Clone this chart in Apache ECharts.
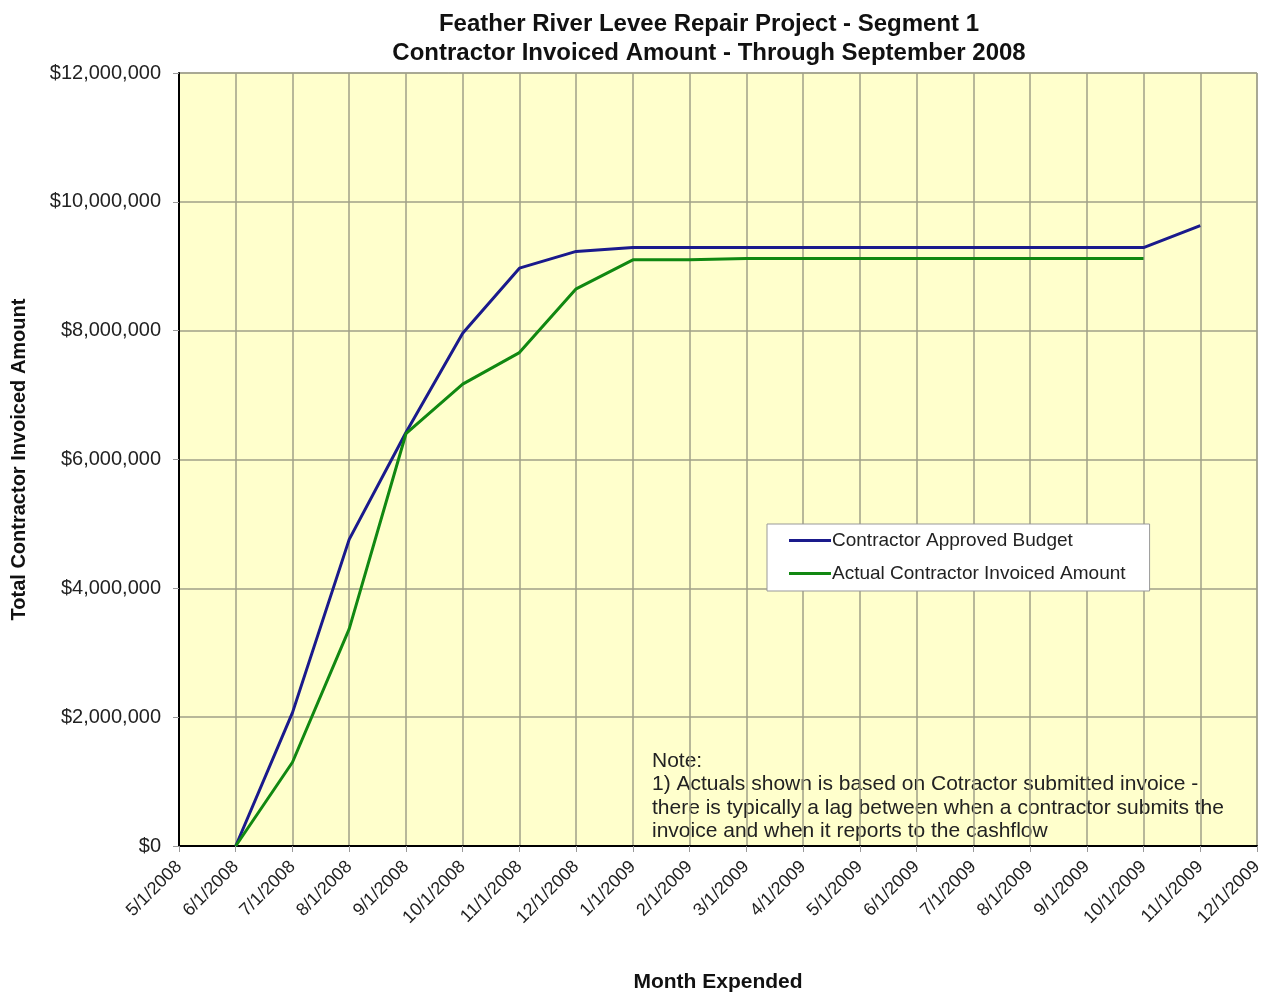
<!DOCTYPE html>
<html>
<head>
<meta charset="utf-8">
<script src="https://cdn.jsdelivr.net/npm/echarts@6/dist/echarts.min.js"></script>
<style>
  html, body { margin: 0; padding: 0; background: #fff; }
  #chart { width: 1270px; height: 998px; }
</style>
</head>
<body>
<div id="chart"></div>
<script>
// 月份
var months = ['5/1/2008', '6/1/2008', '7/1/2008', '8/1/2008', '9/1/2008', '10/1/2008',
  '11/1/2008', '12/1/2008', '1/1/2009', '2/1/2009', '3/1/2009', '4/1/2009', '5/1/2009',
  '6/1/2009', '7/1/2009', '8/1/2009', '9/1/2009', '10/1/2009', '11/1/2009', '12/1/2009']

// 预算
var approvedBudget = [null, 0, 2070000, 4760000, 6420000, 7960000, 8970000, 9230000, 9290000,
  9290000, 9290000, 9290000, 9290000, 9290000, 9290000, 9290000, 9290000, 9290000, 9630000, null]

// 实际开票
var actualInvoiced = [null, 0, 1300000, 3370000, 6400000, 7170000, 7660000, 8650000, 9100000,
  9100000, 9120000, 9120000, 9120000, 9120000, 9120000, 9120000, 9120000, 9120000, null, null]

var yTicks = [0, 2000000, 4000000, 6000000, 8000000, 10000000, 12000000]

var fontName = 'Liberation Sans, Arial, sans-serif'

var chart = echarts.init(document.getElementById('chart'))

var option = {
  backgroundColor: '#ffffff',
  animation: false,
  title: {
    text: 'Feather River Levee Repair Project - Segment 1\nContractor Invoiced Amount - Through September 2008',
    left: 704,
    top: 5,
    textAlign: 'center',
    textStyle: {
      fontFamily: fontName,
      fontSize: 24,
      fontWeight: 'bold',
      color: '#111',
      lineHeight: 29
    }
  },
  grid: {
    left: 179,
    right: 13,
    top: 73,
    bottom: 148,
    show: true,
    backgroundColor: '#ffffcc',
    borderColor: '#888',
    borderWidth: 1
  },
  legend: {
    orient: 'vertical',
    left: 767,
    top: 524,
    width: 389,
    backgroundColor: '#ffffff',
    borderColor: '#999',
    borderWidth: 1,
    padding: [7, 24, 8, 22],
    itemGap: 14,
    itemWidth: 42,
    itemHeight: 3,
    icon: 'rect',
    textStyle: {
      fontFamily: fontName,
      fontSize: 19,
      color: '#222',
      padding: [0, 0, 0, -4]
    },
    data: ['Contractor Approved Budget', 'Actual Contractor Invoiced Amount']
  },
  xAxis: {
    type: 'category',
    data: months,
    boundaryGap: false,
    name: 'Month Expended',
    nameLocation: 'middle',
    nameGap: 126,
    nameTextStyle: {
      fontFamily: fontName,
      fontSize: 21,
      fontWeight: 'bold',
      color: '#111'
    },
    axisLine: { show: true, lineStyle: { color: '#000', width: 2 } },
    axisTick: { show: true, alignWithLabel: true, length: 6, lineStyle: { color: '#999' } },
    axisLabel: {
      interval: 0,
      rotate: 45,
      margin: 18,
      fontFamily: fontName,
      fontSize: 18,
      color: '#222'
    },
    splitLine: { show: true, lineStyle: { color: '#a0a088', width: 1.5 } }
  },
  yAxis: {
    type: 'value',
    min: yTicks[0],
    max: yTicks[yTicks.length - 1],
    interval: 2000000,
    name: 'Total Contractor Invoiced Amount',
    nameLocation: 'middle',
    nameGap: 150,
    nameRotate: 90,
    nameTextStyle: {
      fontFamily: fontName,
      fontSize: 20,
      fontWeight: 'bold',
      color: '#111'
    },
    axisLine: { show: true, lineStyle: { color: '#000', width: 2 } },
    axisTick: { show: true, length: 6, lineStyle: { color: '#999' } },
    axisLabel: {
      margin: 18,
      fontFamily: fontName,
      fontSize: 20,
      color: '#222',
      formatter: function (v) {
        return '$' + v.toLocaleString('en-US')
      }
    },
    splitLine: { show: true, lineStyle: { color: '#a0a088', width: 1.5 } }
  },
  graphic: [
    {
      type: 'text',
      left: 652,
      top: 749,
      style: {
        text: 'Note:\n1) Actuals shown is based on Cotractor submitted invoice -\nthere is typically a lag between when a contractor submits the\ninvoice and when it reports to the cashflow',
        font: '21px ' + fontName,
        fill: '#222',
        lineHeight: 23.5
      }
    }
  ],
  series: [
    {
      name: 'Contractor Approved Budget',
      type: 'line',
      data: approvedBudget,
      symbol: 'none',
      itemStyle: { color: '#1a1a8c' },
      lineStyle: { color: '#1a1a8c', width: 3 }
    },
    {
      name: 'Actual Contractor Invoiced Amount',
      type: 'line',
      data: actualInvoiced,
      symbol: 'none',
      itemStyle: { color: '#118811' },
      lineStyle: { color: '#118811', width: 3 }
    }
  ]
}

chart.setOption(option)
</script>
</body>
</html>
